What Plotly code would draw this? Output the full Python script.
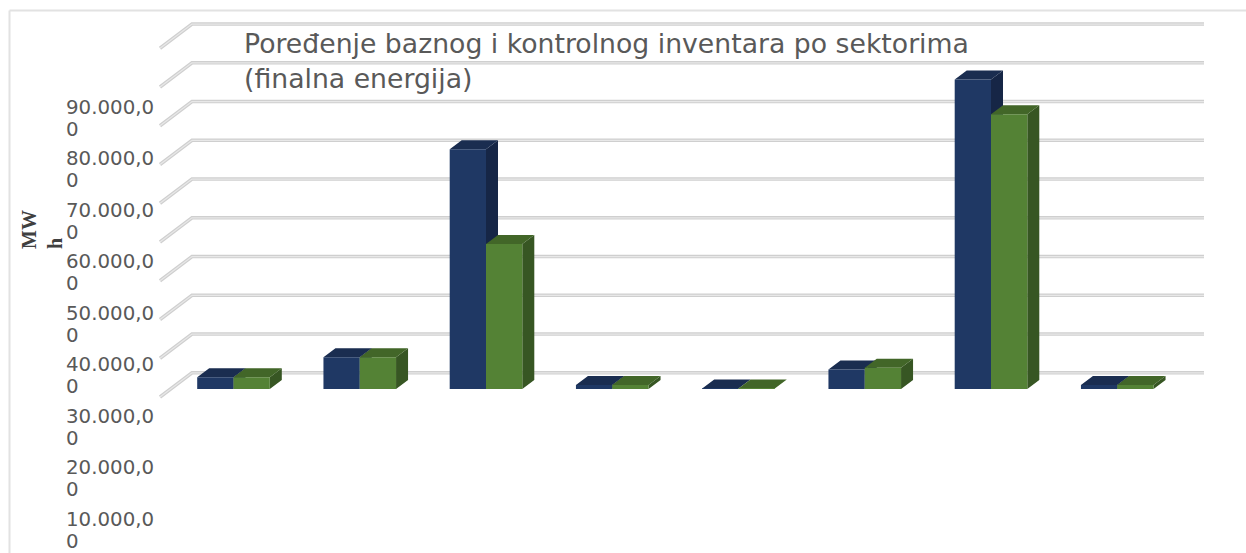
import plotly.graph_objects as go

# ---------- data ----------
categories = [0, 1, 2, 3, 4, 5, 6, 7]
bazni = [3000, 8200, 61850, 1000, 100, 5000, 79900, 1000]
kontrolni = [3000, 8200, 37400, 1000, 100, 5500, 70900, 1000]
grid_values = [0, 10000, 20000, 30000, 40000, 50000, 60000, 70000, 80000, 90000]
label_values = [90000, 80000, 70000, 60000, 50000, 40000, 30000, 20000, 10000]
label_line1 = ["90.000,0", "80.000,0", "70.000,0", "60.000,0", "50.000,0",
               "40.000,0", "30.000,0", "20.000,0", "10.000,0"]
label_line2 = ["0", "0", "0", "0", "0", "0", "0", "0", "0"]
title_text = "Poređenje baznog i kontrolnog inventara po sektorima<br>(finalna energija)"
axis_title = "MW<br>h"

# ---------- geometry / style ----------
W, H = 1246, 553
PX_PER_CAT = 126.25
X0_PX = 233.5
PX_PER_UNIT = 38.75 / 10000
Y0_PX = 389
LABEL_PX_PER_UNIT = 51.5 / 10000
LABEL_Y0_PX = 581.5
BAR_W = 36.3 / PX_PER_CAT
DX_BAR = 12 / PX_PER_CAT
DY_BAR = 9 / PX_PER_UNIT
X_WALL_FRONT = (160 - X0_PX) / PX_PER_CAT
X_WALL_BACK = (192 - X0_PX) / PX_PER_CAT
X_WALL_END = (1204 - X0_PX) / PX_PER_CAT
Y_FLOOR_FRONT = -8 / PX_PER_UNIT
Y_WALL_BACK = 16.2 / PX_PER_UNIT

BLUE, BLUE_TOP, BLUE_SIDE = "#1f3864", "#1a2d50", "#162646"
GREEN, GREEN_TOP, GREEN_SIDE = "#548235", "#426628", "#375623"
GRID_OUT, GRID_IN = "#cfcfcf", "#e8e8e8"
TEXT = "#595959"

fig = go.Figure()

# gridlines on the floor/back wall
gx, gy = [], []
for v in grid_values:
    gx += [X_WALL_FRONT, X_WALL_BACK, X_WALL_END, None]
    gy += [v + Y_FLOOR_FRONT, v + Y_WALL_BACK, v + Y_WALL_BACK, None]
for c, w in ((GRID_OUT, 3.5), (GRID_IN, 1.2)):
    fig.add_trace(go.Scatter(x=gx, y=gy, mode="lines", line=dict(color=c, width=w),
                             hoverinfo="skip", showlegend=False))


def faces(values, left_shift):
    sx, sy, tx, ty = [], [], [], []
    for c, v in zip(categories, values):
        xl = c + left_shift
        xr = xl + BAR_W
        sx += [xr, xr + DX_BAR, xr + DX_BAR, xr, xr, None]
        sy += [0, DY_BAR, v + DY_BAR, v, 0, None]
        tx += [xl, xl + DX_BAR, xr + DX_BAR, xr, xl, None]
        ty += [v, v + DY_BAR, v + DY_BAR, v, v, None]
    return sx, sy, tx, ty


for values, shift, top, side in ((bazni, -BAR_W, BLUE_TOP, BLUE_SIDE), (kontrolni, 0, GREEN_TOP, GREEN_SIDE)):
    sx, sy, tx, ty = faces(values, shift)
    for px, py, col in ((sx, sy, side), (tx, ty, top)):
        fig.add_trace(go.Scatter(x=px, y=py, mode="lines", fill="toself", fillcolor=col,
                                 line=dict(width=0, color=col), hoverinfo="skip", showlegend=False))

# front faces, on an overlaid identical axis pair so that they sit above the depth faces
for values, shift, col, name in ((bazni, -BAR_W / 2, BLUE, "Bazni"), (kontrolni, BAR_W / 2, GREEN, "Kontrolni")):
    fig.add_trace(go.Bar(x=[c + shift for c in categories], y=values, width=BAR_W, marker_color=col,
                         marker_line_width=0, name=name, xaxis="x2", yaxis="y2", showlegend=False))

xr_ = [-X0_PX / PX_PER_CAT, (W - X0_PX) / PX_PER_CAT]
yr_ = [-(H - Y0_PX) / PX_PER_UNIT, Y0_PX / PX_PER_UNIT]
lr_ = [(LABEL_Y0_PX - H) / LABEL_PX_PER_UNIT, LABEL_Y0_PX / LABEL_PX_PER_UNIT]

label_font = dict(size=19.8, color=TEXT, family="DejaVu Sans")
annotations = []
for v, a, b in zip(label_values, label_line1, label_line2):
    annotations.append(dict(x=64 / W, xref="paper", xanchor="left", y=v, yref="y3", yanchor="middle", yshift=11,
                            text=a, showarrow=False, font=label_font))
    annotations.append(dict(x=64 / W, xref="paper", xanchor="left", y=v, yref="y3", yanchor="middle", yshift=-11,
                            text=b, showarrow=False, font=label_font))
annotations.append(dict(x=42 / W, xref="paper", xanchor="center", y=1 - 230 / H, yref="paper", text=axis_title,
                        textangle=-90, showarrow=False, align="left",
                        font=dict(size=20, color="#404040", family="Liberation Serif", weight="bold")))

fig.update_layout(
    width=W, height=H, margin=dict(l=0, r=0, t=0, b=0), paper_bgcolor="white", plot_bgcolor="white",
    barmode="overlay", showlegend=False, font=dict(family="DejaVu Sans", color=TEXT),
    title=dict(text=title_text, x=244 / W, xanchor="left", xref="paper", y=1 - 53 / H, yanchor="middle", yref="paper",
               font=dict(size=26.7, color=TEXT, family="DejaVu Sans")),
    xaxis=dict(range=xr_, visible=False, fixedrange=True),
    yaxis=dict(range=yr_, visible=False, fixedrange=True),
    xaxis2=dict(range=xr_, visible=False, overlaying="x", fixedrange=True),
    yaxis2=dict(range=yr_, visible=False, overlaying="y", fixedrange=True),
    yaxis3=dict(range=lr_, visible=False, overlaying="y", fixedrange=True),
    annotations=annotations,
    shapes=[dict(type="line", xref="paper", yref="paper", x0=9.5 / W, x1=1, y0=1 - 10.5 / H, y1=1 - 10.5 / H,
                 line=dict(color="#e2e2e2", width=2)),
            dict(type="line", xref="paper", yref="paper", x0=9.5 / W, x1=9.5 / W, y0=0, y1=1 - 10.5 / H,
                 line=dict(color="#e2e2e2", width=2))],
)

fig.write_html("out.html", config={"displayModeBar": False},
               post_script="document.body.style.margin='0';document.body.style.overflow='hidden';")
